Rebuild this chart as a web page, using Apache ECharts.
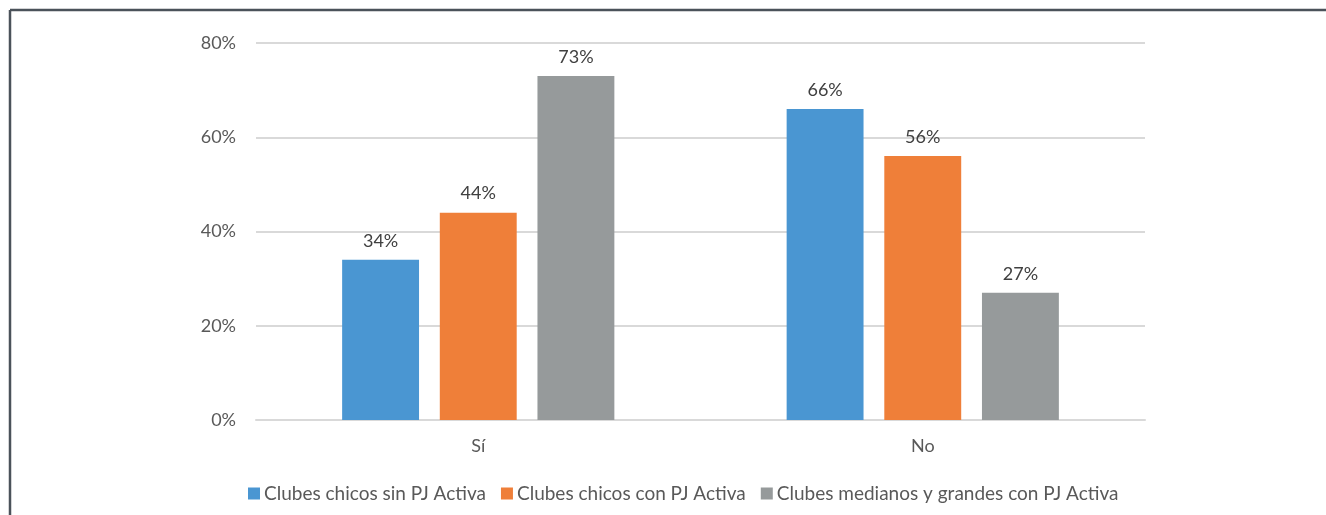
<!DOCTYPE html>
<html>
<head>
<meta charset="utf-8">
<script src="https://cdn.jsdelivr.net/npm/echarts@6/dist/echarts.min.js"></script>
<style>
  html, body { margin: 0; padding: 0; background: #ffffff; }
  #chart { width: 1326px; height: 515px; }
</style>
</head>
<body>
<div id="chart"></div>
<script>
// Categories and series values (percent)
const categories = ['Sí', 'No'];
const seriesNames = [
  'Clubes chicos sin PJ Activa',
  'Clubes chicos con PJ Activa',
  'Clubes medianos y grandes con PJ Activa'
];
const sinPJ = [34, 66];
const conPJ = [44, 56];
const medianosGrandes = [73, 27];
const colors = ['#4a96d2', '#ef7f39', '#969a9b'];

const FONT = 'Lato';
const chart = echarts.init(document.getElementById('chart'), null, { renderer: 'canvas' });

const label = {
  show: true,
  position: 'top',
  distance: 10,
  formatter: '{c}%',
  color: '#404040',
  fontFamily: FONT,
  fontSize: 18
};

chart.setOption({
  animation: false,
  color: colors,
  textStyle: { fontFamily: FONT },
  graphic: [
    { type: 'line', shape: { x1: 10, y1: 10, x2: 1326, y2: 10 }, style: { stroke: '#4b525a', lineWidth: 2.5 } },
    { type: 'line', shape: { x1: 10, y1: 10, x2: 10, y2: 515 }, style: { stroke: '#4b525a', lineWidth: 2.5 } }
  ],
  grid: { left: 256, right: 181, top: 43, bottom: 95, containLabel: false },
  legend: {
    bottom: 7,
    left: 243,
    itemWidth: 12,
    itemHeight: 12,
    itemGap: 15,
    icon: 'rect',
    textStyle: { color: '#595959', fontSize: 19, fontFamily: FONT, padding: [0, 0, 0, -1] },
    data: seriesNames
  },
  xAxis: {
    type: 'category',
    data: categories,
    axisLine: { lineStyle: { color: '#d9d9d9', width: 2 } },
    axisTick: { show: false },
    axisLabel: { color: '#595959', fontSize: 18, fontFamily: FONT, margin: 17 }
  },
  yAxis: {
    type: 'value',
    min: 0,
    max: 80,
    interval: 20,
    axisLine: { show: false },
    axisTick: { show: false },
    splitLine: { lineStyle: { color: '#d9d9d9', width: 2 } },
    axisLabel: { color: '#595959', fontSize: 18, fontFamily: FONT, margin: 20, formatter: '{value}%' }
  },
  series: [
    { name: seriesNames[0], type: 'bar', data: sinPJ, barWidth: '17.3%', barGap: '27%', label },
    { name: seriesNames[1], type: 'bar', data: conPJ, barWidth: '17.3%', barGap: '27%', label },
    { name: seriesNames[2], type: 'bar', data: medianosGrandes, barWidth: '17.3%', barGap: '27%', label }
  ]
});
</script>
</body>
</html>
